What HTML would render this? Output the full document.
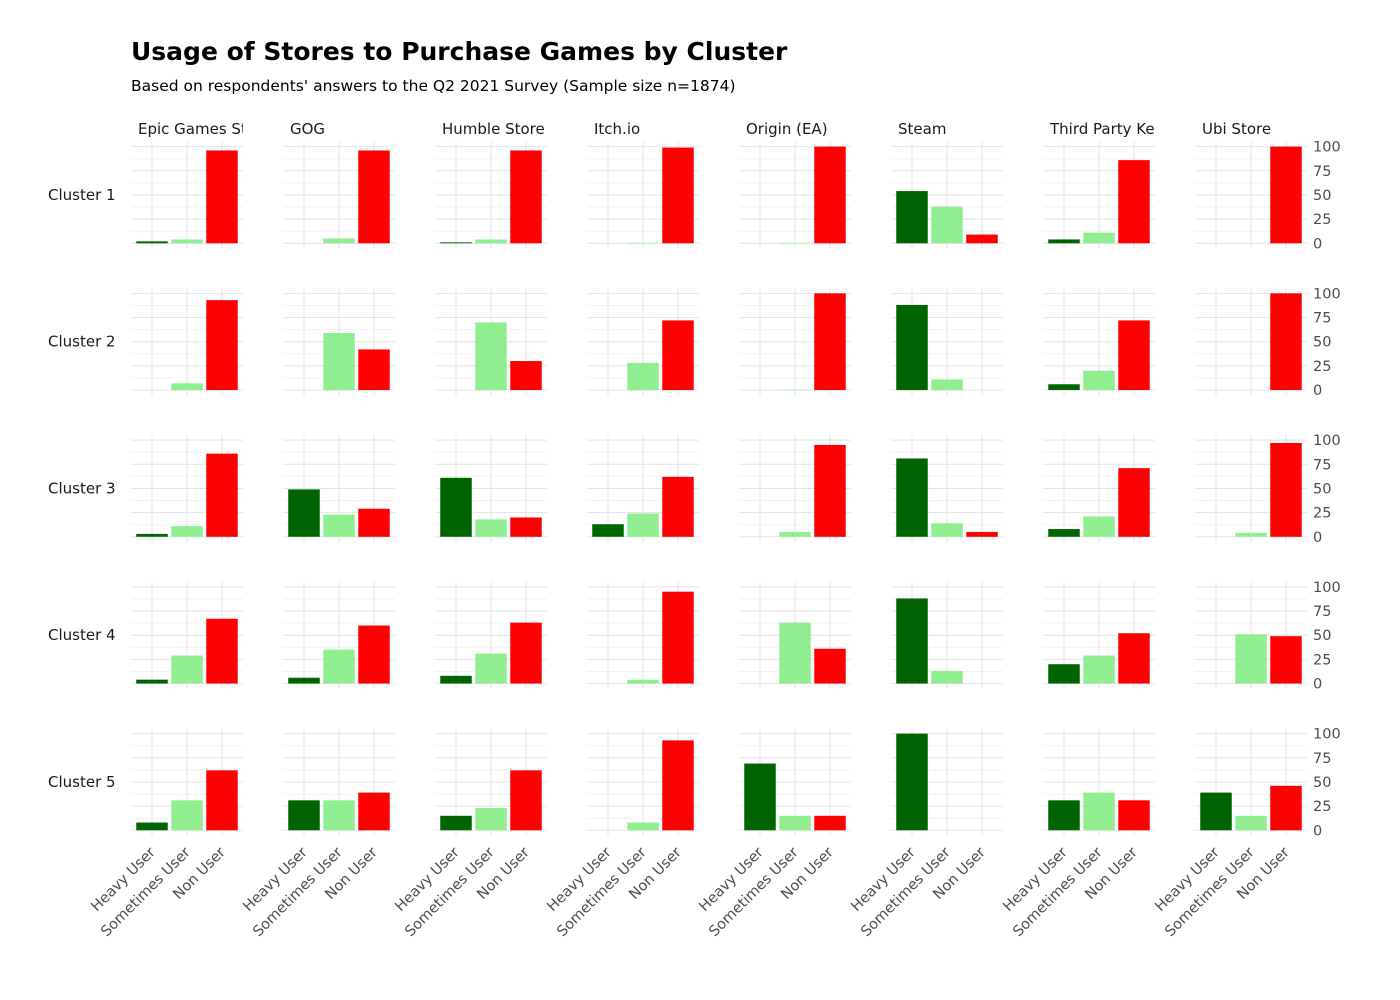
<!DOCTYPE html>
<html><head><meta charset="utf-8"><style>
html,body{margin:0;padding:0;background:#fff;}
svg{display:block;font-family:"DejaVu Sans","Liberation Sans",sans-serif;}
</style></head><body>
<svg id="chart" width="1400" height="1000" viewBox="0 0 1400 1000">
<text x="131" y="60" font-size="25" font-weight="bold" fill="#000">Usage of Stores to Purchase Games by Cluster</text>
<text x="131" y="91" font-size="15.5" fill="#000">Based on respondents' answers to the Q2 2021 Survey (Sample size n=1874)</text>
<g id="panels"></g>
</svg>
<script>
const stores = ["Epic Games Store","GOG","Humble Store","Itch.io","Origin (EA)","Steam","Third Party Key","Ubi Store"];
const clusters = ["Cluster 1","Cluster 2","Cluster 3","Cluster 4","Cluster 5"];
const categories = ["Heavy User","Sometimes User","Non User"];
const yTicks = [0,25,50,75,100];
// heavy / sometimes / non per cluster (rows) per store (cols)
const heavy = [
 [2,0,1,0,0,54,4,0],
 [0,0,0,0,0,88,6,0],
 [3,49,61,13,0,81,8,0],
 [4,6,8,0,0,88,20,0],
 [8,31,15,0,69,100,31,39]
];
const sometimes = [
 [4,5,4,0.5,0.5,38,11,0],
 [7,59,70,28,0.5,11,20,0],
 [11,23,18,24,5,14,21,4],
 [29,35,31,4,63,13,29,51],
 [31,31,23,8,15,0,39,15]
];
const nonUser = [
 [96,96,96,99,100,9,86,100],
 [93,42,30,72,100,0,72,100],
 [86,29,20,62,95,5,71,97],
 [67,60,63,95,36,0,52,49],
 [62,39,62,93,15,0,31,46]
];
const series = [heavy, sometimes, nonUser];
const colors = ["#006400","#90ee90","#ff0000"];

const NS="http://www.w3.org/2000/svg";
const g=document.getElementById("panels");
const colX0=131, colPitch=152, panelW=112;
const rowZero0=243.3, rowPitch=146.75, pxPerUnit=0.967;
const yMin=-5, yMax=105;
function mk(tag,attrs,parent){const e=document.createElementNS(NS,tag);for(const k in attrs)e.setAttribute(k,attrs[k]);(parent||g).appendChild(e);return e;}
function xScale(col,k){const unit=panelW/3.2;return colX0+col*colPitch+(0.6+k)*unit;}
function yScale(row,v){return rowZero0+row*rowPitch-v*pxPerUnit;}
const bandW=panelW/3.2, barW=bandW*0.9;

const defs=mk("defs",{});
stores.forEach((s,c)=>{
  const cp=mk("clipPath",{id:"clip"+c},defs);
  mk("rect",{x:colX0+c*colPitch,y:110,width:panelW,height:30},cp);
  const t=mk("text",{x:colX0+c*colPitch+7,y:134,"font-size":"15","fill":"#1a1a1a","clip-path":"url(#clip"+c+")"});
  
  
  t.textContent=s;
});
clusters.forEach((cl,r)=>{
  const t=mk("text",{x:48,y:yScale(r,50)+5,"font-size":"15","fill":"#1a1a1a"});
  
  
  t.textContent=cl;
  stores.forEach((s,c)=>{
    const x0=colX0+c*colPitch;
    const top=yScale(r,yMax), bot=yScale(r,yMin);
    // minor grid
    for(let v=12.5;v<100;v+=25){mk("line",{x1:x0,x2:x0+panelW,y1:yScale(r,v),y2:yScale(r,v),stroke:"#f2f2f2","stroke-width":1});}
    yTicks.forEach(v=>{mk("line",{x1:x0,x2:x0+panelW,y1:yScale(r,v),y2:yScale(r,v),stroke:"#e3e3e3","stroke-width":1});});
    for(let k=0;k<3;k++){mk("line",{x1:xScale(c,k),x2:xScale(c,k),y1:top,y2:bot,stroke:"#e3e3e3","stroke-width":1});}
    for(let k=0;k<3;k++){
      const v=series[k][r][c];
      if(v<=0) continue;
      const yT=yScale(r,v), y0=yScale(r,0);
      const b=mk("rect",{x:xScale(c,k)-barW/2,y:yT,width:barW,height:Math.max(y0-yT,0.6),fill:colors[k]});
      
      
    }
  });
  yTicks.forEach(v=>{
    const t=mk("text",{x:1313,y:yScale(r,v)+5,"font-size":"14.5","fill":"#4d4d4d"});
    
    
    t.textContent=v;
  });
});
stores.forEach((s,c)=>{
  categories.forEach((cat,k)=>{
    const x=xScale(c,k)+4, y=853;
    const t=mk("text",{x:x,y:y,"font-size":"14.5","fill":"#4d4d4d","text-anchor":"end",transform:"rotate(-45 "+x+" "+y+")"});
    
    
    t.textContent=cat;
  });
});
</script>
</body></html>
